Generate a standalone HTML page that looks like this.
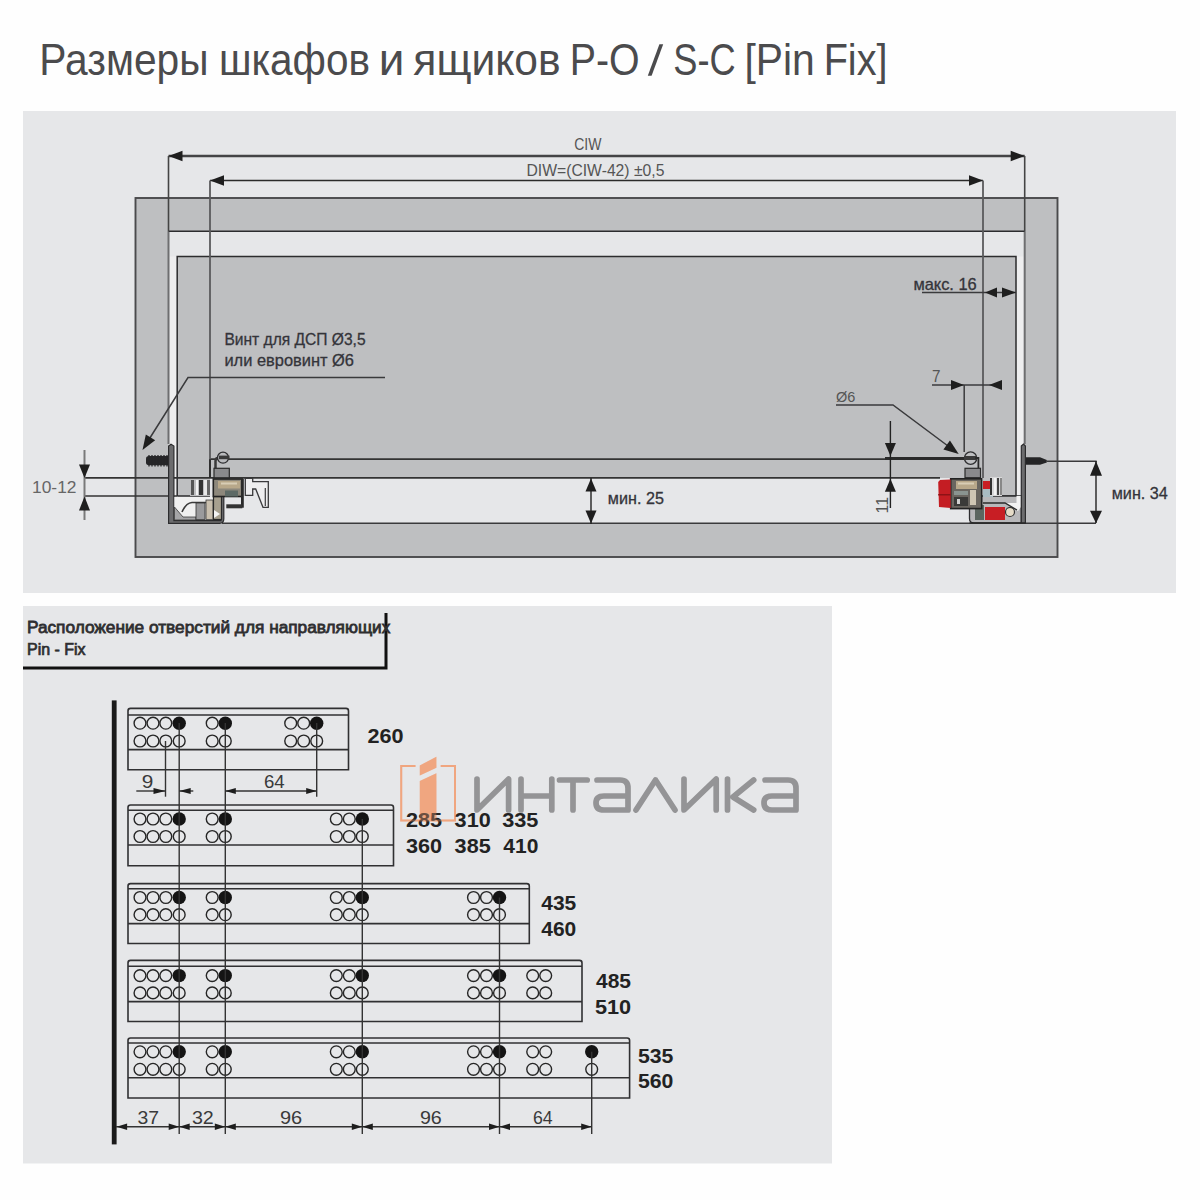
<!DOCTYPE html>
<html><head><meta charset="utf-8"><style>
html,body{margin:0;padding:0;background:#fefefe;}
svg{display:block;font-family:"Liberation Sans", sans-serif;}
</style></head><body>
<svg width="1200" height="1200" viewBox="0 0 1200 1200">
<rect width="1200" height="1200" fill="#fefefe"/>
<text x="100" y="0" font-size="43.5" font-weight="normal" fill="#4b4b4d" transform="translate(-54.43,74.75) scale(0.9368,1)" >Размеры</text>
<text x="100" y="0" font-size="43.5" font-weight="normal" fill="#4b4b4d" transform="translate(125.72,74.75) scale(0.9318,1)" >шкафов</text>
<text x="100" y="0" font-size="43.5" font-weight="normal" fill="#4b4b4d" transform="translate(273.28,74.75) scale(1.0556,1)" >и</text>
<text x="100" y="0" font-size="43.5" font-weight="normal" fill="#4b4b4d" transform="translate(315.42,74.75) scale(0.9791,1)" >ящиков</text>
<text x="100" y="0" font-size="43.5" font-weight="normal" fill="#4b4b4d" transform="translate(479.26,74.75) scale(0.9042,1)" >P-O</text>
<text x="100" y="0" font-size="43.5" font-weight="normal" fill="#4b4b4d" transform="translate(589.95,74.75) scale(0.8338,1)" >S-C</text>
<text x="100" y="0" font-size="43.5" font-weight="normal" fill="#4b4b4d" transform="translate(650.72,74.75) scale(0.9377,1)" >[Pin</text>
<text x="100" y="0" font-size="43.5" font-weight="normal" fill="#4b4b4d" transform="translate(732.54,74.75) scale(0.9111,1)" >Fix]</text>
<polygon points="659.4,44.3 663.2,44.3 651.6,75.7 647.8,75.7" fill="#4b4b4d"/>
<rect x="23" y="111" width="1153" height="482" fill="#e6e7e9"/>
<rect x="135.5" y="198" width="922" height="359" fill="#bebfc1" stroke="#4a4a4c" stroke-width="1.9"/>
<rect x="168.5" y="231.3" width="856" height="292" fill="#e6e7e9"/>
<rect x="177.2" y="256.5" width="838.8" height="221.5" fill="#bebfc1"/>
<rect x="177.2" y="256.5" width="32.8" height="239.5" fill="#bebfc1"/>
<rect x="983" y="256.5" width="33" height="239.5" fill="#bebfc1"/>
<rect x="169.5" y="256.5" width="7" height="240" fill="#eeeeef"/>
<rect x="1016.75" y="256.5" width="7" height="240" fill="#eeeeef"/>
<path d="M177.2 496 L177.2 256.5 L1016 256.5 L1016 496 L983 496" fill="none" stroke="#2c2c2e" stroke-width="1.5"/>
<line x1="177.2" y1="496" x2="210" y2="496" stroke="#2c2c2e" stroke-width="1.5"/>
<line x1="168.5" y1="231.3" x2="168.5" y2="444" stroke="#6e6e70" stroke-width="2"/>
<line x1="1024.7" y1="231.3" x2="1024.7" y2="444" stroke="#6e6e70" stroke-width="2"/>
<line x1="168.5" y1="231.3" x2="1024.7" y2="231.3" stroke="#2c2c2e" stroke-width="1.6"/>
<line x1="222" y1="523.3" x2="1096" y2="523.3" stroke="#3a3a3c" stroke-width="1.6"/>
<line x1="210" y1="459.2" x2="965" y2="459.2" stroke="#333" stroke-width="1.8"/>
<line x1="885" y1="458.4" x2="965" y2="458.4" stroke="#2a2a2a" stroke-width="2.6"/>
<line x1="85" y1="477.9" x2="940" y2="477.9" stroke="#333" stroke-width="1.8"/>
<line x1="85" y1="496" x2="177" y2="496" stroke="#333" stroke-width="1.5"/>
<line x1="168.5" y1="156" x2="1024.7" y2="156" stroke="#444446" stroke-width="2.3"/>
<polygon points="168.50,156.00 182.50,150.80 182.50,161.20" fill="#1e1e1e"/>
<polygon points="1024.70,156.00 1010.70,161.20 1010.70,150.80" fill="#1e1e1e"/>
<line x1="168.5" y1="156" x2="168.5" y2="231.3" stroke="#444" stroke-width="1.6"/>
<line x1="1024.7" y1="156" x2="1024.7" y2="231.3" stroke="#444" stroke-width="1.6"/>
<text x="100" y="0" font-size="16.7" font-weight="normal" fill="#555" transform="translate(490.29,149.5) scale(0.8387,1)" >CIW</text>
<line x1="210" y1="180.5" x2="983" y2="180.5" stroke="#2a2a2a" stroke-width="1.6"/>
<polygon points="210.00,180.50 224.00,175.30 224.00,185.70" fill="#1e1e1e"/>
<polygon points="983.00,180.50 969.00,185.70 969.00,175.30" fill="#1e1e1e"/>
<line x1="210" y1="180.5" x2="210" y2="478" stroke="#5a5a5c" stroke-width="1.8"/>
<line x1="983" y1="180.5" x2="983" y2="478" stroke="#5a5a5c" stroke-width="1.8"/>
<text x="100" y="0" font-size="16" font-weight="normal" fill="#555" transform="translate(428.32,175.5) scale(0.9820,1)" >DIW=(CIW-42) ±0,5</text>
<text x="100" y="0" font-size="16.4" font-weight="normal" stroke="#34343a" stroke-width="0.3" fill="#34343a" transform="translate(129.48,345) scale(0.9497,1)" >Винт для ДСП Ø3,5</text>
<text x="100" y="0" font-size="16.4" font-weight="normal" stroke="#34343a" stroke-width="0.3" fill="#34343a" transform="translate(124.16,365.7) scale(1.0023,1)" >или евровинт Ø6</text>
<polyline points="385,377.5 188,377.5 148,441" fill="none" stroke="#3a3a3c" stroke-width="1.5"/>
<polygon points="142.50,450.00 145.84,434.38 155.15,440.24" fill="#1e1e1e"/>
<text x="100" y="0" font-size="16" font-weight="normal" stroke="#34343a" stroke-width="0.3" fill="#34343a" transform="translate(810.71,290) scale(1.0267,1)" >макс. 16</text>
<line x1="922" y1="292.6" x2="1016" y2="292.6" stroke="#3a3a3c" stroke-width="1.5"/>
<polygon points="985.00,292.60 997.00,287.60 997.00,297.60" fill="#1e1e1e"/>
<polygon points="1016.00,292.60 1002.00,297.60 1002.00,287.60" fill="#1e1e1e"/>
<text x="100" y="0" font-size="17.4" font-weight="normal" fill="#555" transform="translate(844.62,382) scale(0.8750,1)" >7</text>
<line x1="932" y1="385" x2="1002" y2="385" stroke="#3a3a3c" stroke-width="1.5"/>
<polygon points="964.00,385.00 951.00,390.00 951.00,380.00" fill="#1e1e1e"/>
<polygon points="989.00,385.00 1002.00,380.00 1002.00,390.00" fill="#1e1e1e"/>
<line x1="964.2" y1="385" x2="964.2" y2="452" stroke="#3a3a3c" stroke-width="1.5"/>
<text x="100" y="0" font-size="14.5" font-weight="normal" fill="#555" transform="translate(736.00,402) scale(1.0000,1)" >Ø6</text>
<polyline points="836,405 893,405 952,449" fill="none" stroke="#3a3a3c" stroke-width="1.5"/>
<polygon points="958.70,454.00 943.39,449.44 949.96,440.62" fill="#1e1e1e"/>
<line x1="890.4" y1="421" x2="890.4" y2="508" stroke="#222" stroke-width="1.4"/>
<polygon points="890.40,456.00 884.90,443.00 895.90,443.00" fill="#1e1e1e"/>
<polygon points="890.40,478.70 895.90,491.70 884.90,491.70" fill="#1e1e1e"/>
<text x="0" y="0" font-size="16" fill="#555" transform="translate(888,513.5) rotate(-90)">11</text>
<line x1="591" y1="478" x2="591" y2="524" stroke="#222" stroke-width="1.4"/>
<polygon points="591.00,478.50 596.50,491.50 585.50,491.50" fill="#1e1e1e"/>
<polygon points="591.00,523.50 585.50,510.50 596.50,510.50" fill="#1e1e1e"/>
<text x="100" y="0" font-size="17" font-weight="normal" stroke="#34343a" stroke-width="0.3" fill="#34343a" transform="translate(512.68,503.6) scale(0.9517,1)" >мин. 25</text>
<line x1="84.5" y1="450" x2="84.5" y2="520" stroke="#7a7a7a" stroke-width="2"/>
<polygon points="84.50,478.00 79.00,464.50 90.00,464.50" fill="#1e1e1e"/>
<polygon points="84.50,496.50 90.00,510.50 79.00,510.50" fill="#1e1e1e"/>
<text x="100" y="0" font-size="17.4" font-weight="normal" fill="#666" transform="translate(-68.00,493) scale(1.0000,1)" >10-12</text>
<line x1="1047" y1="461.3" x2="1096.7" y2="461.3" stroke="#3a3a3c" stroke-width="1.5"/>
<line x1="1096" y1="461" x2="1096" y2="523" stroke="#222" stroke-width="1.4"/>
<polygon points="1096.00,461.30 1102.00,475.80 1090.00,475.80" fill="#1e1e1e"/>
<polygon points="1096.00,523.30 1090.00,510.80 1102.00,510.80" fill="#1e1e1e"/>
<text x="100" y="0" font-size="17" font-weight="normal" stroke="#34343a" stroke-width="0.3" fill="#34343a" transform="translate(1016.40,498.7) scale(0.9534,1)" >мин. 34</text>
<path d="M146 458.5 Q146 456 149 456 L168.7 456 L168.7 465.3 L149 465.3 Q146 465.3 146 462.5 Z" fill="#262628"/><line x1="149" y1="455" x2="149" y2="466.5" stroke="#262628" stroke-width="1.3"/><line x1="152" y1="455" x2="152" y2="466.5" stroke="#262628" stroke-width="1.3"/><line x1="155" y1="455" x2="155" y2="466.5" stroke="#262628" stroke-width="1.3"/><line x1="158" y1="455" x2="158" y2="466.5" stroke="#262628" stroke-width="1.3"/><line x1="161" y1="455" x2="161" y2="466.5" stroke="#262628" stroke-width="1.3"/><line x1="164" y1="455" x2="164" y2="466.5" stroke="#262628" stroke-width="1.3"/><line x1="167" y1="455" x2="167" y2="466.5" stroke="#262628" stroke-width="1.3"/><path d="M168.6 523.3 L168.6 446 L171 444.3 L173.9 446 L173.9 520.6 L221 520.6 Q221 520.6 221 518 L221 495.5 L223.8 495.5 L223.8 519 Q223.8 523.3 219.5 523.3 Z" fill="#6c6c6e" stroke="#2c2c2e" stroke-width="1.2"/><path d="M174.5 497 L221 497 L221 520 L174.5 520 Z" fill="#f0f0f0"/><polygon points="174.5,507 183,517 196,517 196,520 174.5,520" fill="#a6a6a8" stroke="#3a3a3a" stroke-width="0.8"/><path d="M182 512 Q186 503 192 502.5 L210 502.5" fill="none" stroke="#3a3a3a" stroke-width="1.6"/><rect x="196" y="503" width="9" height="16.5" fill="#9a9a9c" stroke="#333" stroke-width="0.8"/><rect x="206" y="500" width="7" height="19.5" fill="#c9bfae" stroke="#3a3a3a" stroke-width="0.8"/><rect x="213.5" y="496.5" width="8" height="23" fill="#a7a08f" stroke="#2a2a2a" stroke-width="1.2"/><path d="M214 510 L220 514 L214 518 Z" fill="#f4f4f4"/><rect x="190" y="479" width="20" height="17" fill="#bdbdbf"/><rect x="191" y="480" width="3" height="15" fill="#555"/><rect x="196" y="480" width="2" height="15" fill="#f2f2f2"/><rect x="199" y="480" width="4" height="15" fill="#333"/><rect x="204" y="480" width="3" height="15" fill="#e8e8e8"/><rect x="207" y="480" width="3" height="15" fill="#666"/><line x1="210" y1="459.2" x2="210" y2="478" stroke="#2a2a2a" stroke-width="1.8"/><path d="M215.5 468 L215.5 461 Q215.5 458 218 458" fill="none" stroke="#3a3a3a" stroke-width="2.5"/><circle cx="223" cy="457.7" r="5.5" fill="#b9babd" stroke="#2e2e30" stroke-width="1.3"/><rect x="219" y="455.6" width="10.5" height="3.6" fill="#3a3a3a"/><rect x="214" y="468.3" width="15.3" height="9.5" fill="#8a8a8c" stroke="#2a2a2a" stroke-width="1.2"/><rect x="213.3" y="479" width="29" height="17.5" fill="#8d887c" stroke="#222" stroke-width="1.6"/><rect x="218" y="481" width="22" height="7.5" fill="#b8a88a"/><rect x="221" y="482.5" width="16" height="2" fill="#d8cdb5"/><rect x="225" y="490.5" width="13" height="6" fill="#5d6a66"/><rect x="241" y="479" width="2.8" height="28.7" fill="#2a2a2a"/><rect x="226.3" y="504.3" width="16" height="4" fill="#333"/><path d="M245.3 478.3 L252.7 478.3 L252.7 481.7 L268.3 481.7 L268.3 507.3 L263 507.3 L255.7 489 L252.7 489 L252.7 495.3 L245.3 495.3 Z" fill="#eeeeef" stroke="#3a3a3c" stroke-width="1.3"/><line x1="265.3" y1="488" x2="265.3" y2="506" stroke="#3a3a3c" stroke-width="1.2"/>
<path d="M1025.4 457.3 L1040 457.3 L1046.8 460 L1046.8 462.5 L1040 464.8 L1025.4 464.8 Z" fill="#242426"/><rect x="1016.5" y="496" width="4.8" height="12" fill="#f0f0f0"/><path d="M969.5 496 L1021.3 496 L1021.3 523 L974 523 Q969.5 523 969.5 518.5 Z" fill="#b8b8ba" stroke="#2e2e30" stroke-width="1.3"/><path d="M983 503 L1005 503 L1018 511 L1021 507 L1021 496 L1016.5 496 L1016.5 503" fill="#f2f2f2"/><rect x="985" y="507" width="20" height="13" fill="#c81e24"/><rect x="975" y="505" width="9" height="15" fill="#5b6660"/><circle cx="1010" cy="512" r="4.5" fill="#e6dcc8" stroke="#333" stroke-width="1.2"/><path d="M983 503 L1005 503 L1017 510" fill="none" stroke="#2a2a2a" stroke-width="1.4"/><path d="M1021.3 446 L1023.5 444 L1025.4 446 L1025.4 523.3 L1021.3 523.3 Z" fill="#6c6c6e" stroke="#2c2c2e" stroke-width="1.2"/><line x1="969.5" y1="523" x2="1025.4" y2="523" stroke="#2a2a2a" stroke-width="1.6"/><circle cx="970.6" cy="458.1" r="6.2" fill="none" stroke="#2e2e30" stroke-width="1.3"/><rect x="964" y="456" width="13" height="4" fill="#3a3a3a"/><path d="M975 458 L978.4 458 L978.4 468" fill="none" stroke="#2a2a2a" stroke-width="1.8"/><rect x="965" y="468.3" width="15.5" height="9.4" fill="#8a8a8c" stroke="#2a2a2a" stroke-width="1.2"/><rect x="950.7" y="478.8" width="31" height="29.8" fill="#6a6660" stroke="#222" stroke-width="1.6"/><rect x="956" y="481" width="21" height="8" fill="#b8a88a"/><rect x="958" y="482.5" width="16" height="2" fill="#d8cdb5"/><rect x="954" y="491" width="14" height="4" fill="#8a9490"/><rect x="954" y="497" width="14" height="9" fill="#3a3a38"/><rect x="957" y="499" width="3" height="5" fill="#d0d0d0"/><rect x="970" y="490" width="6" height="15" fill="#cfc6b4"/><path d="M940 480 L950.7 479.4 L950.7 508 L939 507 L938.2 482 Z" fill="#c41d23"/><rect x="938.2" y="494" width="12.5" height="1.5" fill="#8e1216"/><rect x="983" y="481" width="10" height="8" fill="#c81e24"/><rect x="983" y="489" width="10" height="8" fill="#a9bcc2"/><rect x="990" y="477" width="12" height="19" fill="#d9d9da"/><rect x="990" y="478" width="2" height="17" fill="#333"/><rect x="994" y="478" width="2" height="17" fill="#f4f4f4"/><rect x="997" y="478" width="2" height="17" fill="#444"/><rect x="1000" y="478" width="2" height="17" fill="#888"/>
<rect x="23" y="606" width="809" height="557.5" fill="#e6e7e9"/>
<path d="M23 668 L386 668 L386 613" fill="none" stroke="#111" stroke-width="3"/>
<text x="100" y="0" font-size="16.5" font-weight="normal" stroke="#2e2e30" stroke-width="0.75" fill="#2e2e30" transform="translate(-77.66,632.8) scale(1.0461,1)" >Расположение отверстий для направляющих</text>
<text x="100" y="0" font-size="16.5" font-weight="normal" stroke="#2e2e30" stroke-width="0.75" fill="#2e2e30" transform="translate(-69.63,654.5) scale(0.9667,1)" >Pin - Fix</text>
<rect x="111.8" y="700.4" width="4.8" height="444" fill="#1a1a1a"/>
<path d="M128 769.7 L128 710.9 Q128 708.4 130.5 708.4 L346.0 708.4 Q348.5 708.4 348.5 710.9 L348.5 769.7 Z" fill="#e6e7e9" stroke="#303032" stroke-width="1.6"/><line x1="128" y1="715" x2="348.5" y2="715" stroke="#303032" stroke-width="1.6"/><line x1="128" y1="749.6" x2="348.5" y2="749.6" stroke="#303032" stroke-width="1.6"/>
<circle cx="140" cy="723.2" r="5.9" fill="none" stroke="#262626" stroke-width="1.4"/>
<circle cx="140" cy="741" r="5.9" fill="none" stroke="#262626" stroke-width="1.4"/>
<circle cx="153" cy="723.2" r="5.9" fill="none" stroke="#262626" stroke-width="1.4"/>
<circle cx="153" cy="741" r="5.9" fill="none" stroke="#262626" stroke-width="1.4"/>
<circle cx="165.8" cy="723.2" r="5.9" fill="none" stroke="#262626" stroke-width="1.4"/>
<circle cx="165.8" cy="741" r="5.9" fill="none" stroke="#262626" stroke-width="1.4"/>
<circle cx="179.2" cy="723.2" r="6.7" fill="#141414"/>
<circle cx="179.2" cy="741" r="5.9" fill="none" stroke="#262626" stroke-width="1.4"/>
<circle cx="212.2" cy="723.2" r="5.9" fill="none" stroke="#262626" stroke-width="1.4"/>
<circle cx="212.2" cy="741" r="5.9" fill="none" stroke="#262626" stroke-width="1.4"/>
<circle cx="225.3" cy="723.2" r="6.7" fill="#141414"/>
<circle cx="225.3" cy="741" r="5.9" fill="none" stroke="#262626" stroke-width="1.4"/>
<circle cx="290.7" cy="723.2" r="5.9" fill="none" stroke="#262626" stroke-width="1.4"/>
<circle cx="290.7" cy="741" r="5.9" fill="none" stroke="#262626" stroke-width="1.4"/>
<circle cx="303.7" cy="723.2" r="5.9" fill="none" stroke="#262626" stroke-width="1.4"/>
<circle cx="303.7" cy="741" r="5.9" fill="none" stroke="#262626" stroke-width="1.4"/>
<circle cx="316.7" cy="723.2" r="6.7" fill="#141414"/>
<circle cx="316.7" cy="741" r="5.9" fill="none" stroke="#262626" stroke-width="1.4"/>
<path d="M128 865.8 L128 807.5 Q128 805 130.5 805 L391.0 805 Q393.5 805 393.5 807.5 L393.5 865.8 Z" fill="#e6e7e9" stroke="#303032" stroke-width="1.6"/><line x1="128" y1="810.3" x2="393.5" y2="810.3" stroke="#303032" stroke-width="1.6"/><line x1="128" y1="845" x2="393.5" y2="845" stroke="#303032" stroke-width="1.6"/>
<circle cx="140" cy="819" r="5.9" fill="none" stroke="#262626" stroke-width="1.4"/>
<circle cx="140" cy="836.5" r="5.9" fill="none" stroke="#262626" stroke-width="1.4"/>
<circle cx="153" cy="819" r="5.9" fill="none" stroke="#262626" stroke-width="1.4"/>
<circle cx="153" cy="836.5" r="5.9" fill="none" stroke="#262626" stroke-width="1.4"/>
<circle cx="165.8" cy="819" r="5.9" fill="none" stroke="#262626" stroke-width="1.4"/>
<circle cx="165.8" cy="836.5" r="5.9" fill="none" stroke="#262626" stroke-width="1.4"/>
<circle cx="179.2" cy="819" r="6.7" fill="#141414"/>
<circle cx="179.2" cy="836.5" r="5.9" fill="none" stroke="#262626" stroke-width="1.4"/>
<circle cx="212.2" cy="819" r="5.9" fill="none" stroke="#262626" stroke-width="1.4"/>
<circle cx="212.2" cy="836.5" r="5.9" fill="none" stroke="#262626" stroke-width="1.4"/>
<circle cx="225.3" cy="819" r="6.7" fill="#141414"/>
<circle cx="225.3" cy="836.5" r="5.9" fill="none" stroke="#262626" stroke-width="1.4"/>
<circle cx="336.3" cy="819" r="5.9" fill="none" stroke="#262626" stroke-width="1.4"/>
<circle cx="336.3" cy="836.5" r="5.9" fill="none" stroke="#262626" stroke-width="1.4"/>
<circle cx="349.3" cy="819" r="5.9" fill="none" stroke="#262626" stroke-width="1.4"/>
<circle cx="349.3" cy="836.5" r="5.9" fill="none" stroke="#262626" stroke-width="1.4"/>
<circle cx="362.3" cy="819" r="6.7" fill="#141414"/>
<circle cx="362.3" cy="836.5" r="5.9" fill="none" stroke="#262626" stroke-width="1.4"/>
<path d="M128 943.5 L128 886.1 Q128 883.6 130.5 883.6 L526.8 883.6 Q529.3 883.6 529.3 886.1 L529.3 943.5 Z" fill="#e6e7e9" stroke="#303032" stroke-width="1.6"/><line x1="128" y1="888.8" x2="529.3" y2="888.8" stroke="#303032" stroke-width="1.6"/><line x1="128" y1="923.6" x2="529.3" y2="923.6" stroke="#303032" stroke-width="1.6"/>
<circle cx="140" cy="897.5" r="5.9" fill="none" stroke="#262626" stroke-width="1.4"/>
<circle cx="140" cy="914.7" r="5.9" fill="none" stroke="#262626" stroke-width="1.4"/>
<circle cx="153" cy="897.5" r="5.9" fill="none" stroke="#262626" stroke-width="1.4"/>
<circle cx="153" cy="914.7" r="5.9" fill="none" stroke="#262626" stroke-width="1.4"/>
<circle cx="165.8" cy="897.5" r="5.9" fill="none" stroke="#262626" stroke-width="1.4"/>
<circle cx="165.8" cy="914.7" r="5.9" fill="none" stroke="#262626" stroke-width="1.4"/>
<circle cx="179.2" cy="897.5" r="6.7" fill="#141414"/>
<circle cx="179.2" cy="914.7" r="5.9" fill="none" stroke="#262626" stroke-width="1.4"/>
<circle cx="212.2" cy="897.5" r="5.9" fill="none" stroke="#262626" stroke-width="1.4"/>
<circle cx="212.2" cy="914.7" r="5.9" fill="none" stroke="#262626" stroke-width="1.4"/>
<circle cx="225.3" cy="897.5" r="6.7" fill="#141414"/>
<circle cx="225.3" cy="914.7" r="5.9" fill="none" stroke="#262626" stroke-width="1.4"/>
<circle cx="336.3" cy="897.5" r="5.9" fill="none" stroke="#262626" stroke-width="1.4"/>
<circle cx="336.3" cy="914.7" r="5.9" fill="none" stroke="#262626" stroke-width="1.4"/>
<circle cx="349.3" cy="897.5" r="5.9" fill="none" stroke="#262626" stroke-width="1.4"/>
<circle cx="349.3" cy="914.7" r="5.9" fill="none" stroke="#262626" stroke-width="1.4"/>
<circle cx="362.3" cy="897.5" r="6.7" fill="#141414"/>
<circle cx="362.3" cy="914.7" r="5.9" fill="none" stroke="#262626" stroke-width="1.4"/>
<circle cx="473.5" cy="897.5" r="5.9" fill="none" stroke="#262626" stroke-width="1.4"/>
<circle cx="473.5" cy="914.7" r="5.9" fill="none" stroke="#262626" stroke-width="1.4"/>
<circle cx="486.5" cy="897.5" r="5.9" fill="none" stroke="#262626" stroke-width="1.4"/>
<circle cx="486.5" cy="914.7" r="5.9" fill="none" stroke="#262626" stroke-width="1.4"/>
<circle cx="499.5" cy="897.5" r="6.7" fill="#141414"/>
<circle cx="499.5" cy="914.7" r="5.9" fill="none" stroke="#262626" stroke-width="1.4"/>
<path d="M128 1021.5 L128 962.9 Q128 960.4 130.5 960.4 L579.5 960.4 Q582 960.4 582 962.9 L582 1021.5 Z" fill="#e6e7e9" stroke="#303032" stroke-width="1.6"/><line x1="128" y1="966.3" x2="582" y2="966.3" stroke="#303032" stroke-width="1.6"/><line x1="128" y1="1001.6" x2="582" y2="1001.6" stroke="#303032" stroke-width="1.6"/>
<circle cx="140" cy="975.6" r="5.9" fill="none" stroke="#262626" stroke-width="1.4"/>
<circle cx="140" cy="992.9" r="5.9" fill="none" stroke="#262626" stroke-width="1.4"/>
<circle cx="153" cy="975.6" r="5.9" fill="none" stroke="#262626" stroke-width="1.4"/>
<circle cx="153" cy="992.9" r="5.9" fill="none" stroke="#262626" stroke-width="1.4"/>
<circle cx="165.8" cy="975.6" r="5.9" fill="none" stroke="#262626" stroke-width="1.4"/>
<circle cx="165.8" cy="992.9" r="5.9" fill="none" stroke="#262626" stroke-width="1.4"/>
<circle cx="179.2" cy="975.6" r="6.7" fill="#141414"/>
<circle cx="179.2" cy="992.9" r="5.9" fill="none" stroke="#262626" stroke-width="1.4"/>
<circle cx="212.2" cy="975.6" r="5.9" fill="none" stroke="#262626" stroke-width="1.4"/>
<circle cx="212.2" cy="992.9" r="5.9" fill="none" stroke="#262626" stroke-width="1.4"/>
<circle cx="225.3" cy="975.6" r="6.7" fill="#141414"/>
<circle cx="225.3" cy="992.9" r="5.9" fill="none" stroke="#262626" stroke-width="1.4"/>
<circle cx="336.3" cy="975.6" r="5.9" fill="none" stroke="#262626" stroke-width="1.4"/>
<circle cx="336.3" cy="992.9" r="5.9" fill="none" stroke="#262626" stroke-width="1.4"/>
<circle cx="349.3" cy="975.6" r="5.9" fill="none" stroke="#262626" stroke-width="1.4"/>
<circle cx="349.3" cy="992.9" r="5.9" fill="none" stroke="#262626" stroke-width="1.4"/>
<circle cx="362.3" cy="975.6" r="6.7" fill="#141414"/>
<circle cx="362.3" cy="992.9" r="5.9" fill="none" stroke="#262626" stroke-width="1.4"/>
<circle cx="473.5" cy="975.6" r="5.9" fill="none" stroke="#262626" stroke-width="1.4"/>
<circle cx="473.5" cy="992.9" r="5.9" fill="none" stroke="#262626" stroke-width="1.4"/>
<circle cx="486.5" cy="975.6" r="5.9" fill="none" stroke="#262626" stroke-width="1.4"/>
<circle cx="486.5" cy="992.9" r="5.9" fill="none" stroke="#262626" stroke-width="1.4"/>
<circle cx="499.5" cy="975.6" r="6.7" fill="#141414"/>
<circle cx="499.5" cy="992.9" r="5.9" fill="none" stroke="#262626" stroke-width="1.4"/>
<circle cx="532.7" cy="975.6" r="5.9" fill="none" stroke="#262626" stroke-width="1.4"/>
<circle cx="532.7" cy="992.9" r="5.9" fill="none" stroke="#262626" stroke-width="1.4"/>
<circle cx="545.7" cy="975.6" r="5.9" fill="none" stroke="#262626" stroke-width="1.4"/>
<circle cx="545.7" cy="992.9" r="5.9" fill="none" stroke="#262626" stroke-width="1.4"/>
<path d="M128 1098 L128 1040.5 Q128 1038 130.5 1038 L627.1 1038 Q629.6 1038 629.6 1040.5 L629.6 1098 Z" fill="#e6e7e9" stroke="#303032" stroke-width="1.6"/><line x1="128" y1="1043" x2="629.6" y2="1043" stroke="#303032" stroke-width="1.6"/><line x1="128" y1="1077.8" x2="629.6" y2="1077.8" stroke="#303032" stroke-width="1.6"/>
<circle cx="140" cy="1051.8" r="5.9" fill="none" stroke="#262626" stroke-width="1.4"/>
<circle cx="140" cy="1069.3" r="5.9" fill="none" stroke="#262626" stroke-width="1.4"/>
<circle cx="153" cy="1051.8" r="5.9" fill="none" stroke="#262626" stroke-width="1.4"/>
<circle cx="153" cy="1069.3" r="5.9" fill="none" stroke="#262626" stroke-width="1.4"/>
<circle cx="165.8" cy="1051.8" r="5.9" fill="none" stroke="#262626" stroke-width="1.4"/>
<circle cx="165.8" cy="1069.3" r="5.9" fill="none" stroke="#262626" stroke-width="1.4"/>
<circle cx="179.2" cy="1051.8" r="6.7" fill="#141414"/>
<circle cx="179.2" cy="1069.3" r="5.9" fill="none" stroke="#262626" stroke-width="1.4"/>
<circle cx="212.2" cy="1051.8" r="5.9" fill="none" stroke="#262626" stroke-width="1.4"/>
<circle cx="212.2" cy="1069.3" r="5.9" fill="none" stroke="#262626" stroke-width="1.4"/>
<circle cx="225.3" cy="1051.8" r="6.7" fill="#141414"/>
<circle cx="225.3" cy="1069.3" r="5.9" fill="none" stroke="#262626" stroke-width="1.4"/>
<circle cx="336.3" cy="1051.8" r="5.9" fill="none" stroke="#262626" stroke-width="1.4"/>
<circle cx="336.3" cy="1069.3" r="5.9" fill="none" stroke="#262626" stroke-width="1.4"/>
<circle cx="349.3" cy="1051.8" r="5.9" fill="none" stroke="#262626" stroke-width="1.4"/>
<circle cx="349.3" cy="1069.3" r="5.9" fill="none" stroke="#262626" stroke-width="1.4"/>
<circle cx="362.3" cy="1051.8" r="6.7" fill="#141414"/>
<circle cx="362.3" cy="1069.3" r="5.9" fill="none" stroke="#262626" stroke-width="1.4"/>
<circle cx="473.5" cy="1051.8" r="5.9" fill="none" stroke="#262626" stroke-width="1.4"/>
<circle cx="473.5" cy="1069.3" r="5.9" fill="none" stroke="#262626" stroke-width="1.4"/>
<circle cx="486.5" cy="1051.8" r="5.9" fill="none" stroke="#262626" stroke-width="1.4"/>
<circle cx="486.5" cy="1069.3" r="5.9" fill="none" stroke="#262626" stroke-width="1.4"/>
<circle cx="499.5" cy="1051.8" r="6.7" fill="#141414"/>
<circle cx="499.5" cy="1069.3" r="5.9" fill="none" stroke="#262626" stroke-width="1.4"/>
<circle cx="532.7" cy="1051.8" r="5.9" fill="none" stroke="#262626" stroke-width="1.4"/>
<circle cx="532.7" cy="1069.3" r="5.9" fill="none" stroke="#262626" stroke-width="1.4"/>
<circle cx="545.7" cy="1051.8" r="5.9" fill="none" stroke="#262626" stroke-width="1.4"/>
<circle cx="545.7" cy="1069.3" r="5.9" fill="none" stroke="#262626" stroke-width="1.4"/>
<circle cx="591.7" cy="1051.8" r="6.7" fill="#141414"/>
<circle cx="591.7" cy="1069.3" r="5.9" fill="none" stroke="#262626" stroke-width="1.4"/>
<line x1="165.5" y1="741" x2="165.5" y2="796.7" stroke="#333" stroke-width="1.4"/>
<line x1="179.2" y1="723" x2="179.2" y2="1134" stroke="#333" stroke-width="1.4"/>
<line x1="225.3" y1="723" x2="225.3" y2="1134" stroke="#333" stroke-width="1.4"/>
<line x1="316.7" y1="723" x2="316.7" y2="796.7" stroke="#333" stroke-width="1.4"/>
<line x1="362.3" y1="819" x2="362.3" y2="1134" stroke="#333" stroke-width="1.4"/>
<line x1="499.5" y1="897.5" x2="499.5" y2="1134" stroke="#333" stroke-width="1.4"/>
<line x1="591.7" y1="1051.8" x2="591.7" y2="1134" stroke="#333" stroke-width="1.4"/>
<line x1="136.3" y1="791" x2="165.5" y2="791" stroke="#333" stroke-width="1.4"/>
<polygon points="165.50,791.00 153.50,794.00 153.50,788.00" fill="#1e1e1e"/>
<line x1="179.2" y1="791" x2="193.3" y2="791" stroke="#333" stroke-width="1.4"/>
<polygon points="179.20,791.00 190.70,788.00 190.70,794.00" fill="#1e1e1e"/>
<line x1="225.3" y1="791" x2="316.7" y2="791" stroke="#333" stroke-width="1.4"/>
<polygon points="225.30,791.00 235.80,788.00 235.80,794.00" fill="#1e1e1e"/>
<polygon points="316.70,791.00 306.20,794.00 306.20,788.00" fill="#1e1e1e"/>
<text x="100" y="0" font-size="17.5" font-weight="normal" fill="#3a3a3a" transform="translate(23.06,788.3) scale(1.1875,1)" >9</text>
<text x="100" y="0" font-size="17.5" font-weight="normal" fill="#3a3a3a" transform="translate(157.27,788.3) scale(1.0667,1)" >64</text>
<line x1="116" y1="1126.8" x2="591.7" y2="1126.8" stroke="#333" stroke-width="1.4"/>
<polygon points="116.60,1126.80 127.10,1123.60 127.10,1130.00" fill="#1e1e1e"/>
<polygon points="179.20,1126.80 168.70,1130.00 168.70,1123.60" fill="#1e1e1e"/>
<polygon points="179.20,1126.80 189.70,1123.60 189.70,1130.00" fill="#1e1e1e"/>
<polygon points="225.30,1126.80 214.80,1130.00 214.80,1123.60" fill="#1e1e1e"/>
<polygon points="225.30,1126.80 235.80,1123.60 235.80,1130.00" fill="#1e1e1e"/>
<polygon points="362.30,1126.80 351.80,1130.00 351.80,1123.60" fill="#1e1e1e"/>
<polygon points="362.30,1126.80 372.80,1123.60 372.80,1130.00" fill="#1e1e1e"/>
<polygon points="499.50,1126.80 489.00,1130.00 489.00,1123.60" fill="#1e1e1e"/>
<polygon points="499.50,1126.80 510.00,1123.60 510.00,1130.00" fill="#1e1e1e"/>
<polygon points="591.70,1126.80 581.20,1130.00 581.20,1123.60" fill="#1e1e1e"/>
<text x="100" y="0" font-size="18" font-weight="normal" fill="#3a3a3a" transform="translate(29.74,1123.5) scale(1.0778,1)" >37</text>
<text x="100" y="0" font-size="18" font-weight="normal" fill="#3a3a3a" transform="translate(82.46,1123.5) scale(1.0944,1)" >32</text>
<text x="100" y="0" font-size="18" font-weight="normal" fill="#3a3a3a" transform="translate(168.78,1123.5) scale(1.1111,1)" >96</text>
<text x="100" y="0" font-size="18" font-weight="normal" fill="#3a3a3a" transform="translate(310.46,1123.5) scale(1.0944,1)" >96</text>
<text x="100" y="0" font-size="18" font-weight="normal" fill="#3a3a3a" transform="translate(434.59,1123.5) scale(0.9842,1)" >64</text>
<g opacity="0.88"><path d="M415.5 766 L401.2 766 L401.2 820.5 L455 820.5 L455 766 L440.7 766" fill="none" stroke="#f2a178" stroke-width="2"/><polygon points="419.8,765.5 436.4,756.7 436.4,767.7 419.8,775.5" fill="#f2a178"/><polygon points="419.8,781.1 436.4,773.3 436.4,821 419.8,821" fill="#f2a178"/></g>
<text x="100" y="0" font-size="20" font-weight="bold" fill="#222" transform="translate(259.39,743.3) scale(1.0812,1)" >260</text>
<text x="100" y="0" font-size="20" font-weight="bold" fill="#222" transform="translate(297.79,826.8) scale(1.0813,1)" >285</text>
<text x="100" y="0" font-size="20" font-weight="bold" fill="#222" transform="translate(346.49,826.8) scale(1.0813,1)" >310</text>
<text x="100" y="0" font-size="20" font-weight="bold" fill="#222" transform="translate(393.78,826.8) scale(1.0844,1)" >335</text>
<text x="100" y="0" font-size="20" font-weight="bold" fill="#222" transform="translate(297.79,852.8) scale(1.0813,1)" >360</text>
<text x="100" y="0" font-size="20" font-weight="bold" fill="#222" transform="translate(346.49,852.8) scale(1.0813,1)" >385</text>
<text x="100" y="0" font-size="20" font-weight="bold" fill="#222" transform="translate(398.15,852.8) scale(1.0515,1)" >410</text>
<text x="100" y="0" font-size="20" font-weight="bold" fill="#222" transform="translate(436.45,910.2) scale(1.0485,1)" >435</text>
<text x="100" y="0" font-size="20" font-weight="bold" fill="#222" transform="translate(436.45,936.2) scale(1.0485,1)" >460</text>
<text x="100" y="0" font-size="20" font-weight="bold" fill="#222" transform="translate(490.85,988) scale(1.0515,1)" >485</text>
<text x="100" y="0" font-size="20" font-weight="bold" fill="#222" transform="translate(486.48,1013.5) scale(1.0844,1)" >510</text>
<text x="100" y="0" font-size="20" font-weight="bold" fill="#222" transform="translate(531.69,1062.7) scale(1.0625,1)" >535</text>
<text x="100" y="0" font-size="20" font-weight="bold" fill="#222" transform="translate(531.69,1088) scale(1.0625,1)" >560</text>
<g opacity="0.35"><path d="M415.5 766 L401.2 766 L401.2 820.5 L455 820.5 L455 766 L440.7 766" fill="none" stroke="#f2a178" stroke-width="2"/><polygon points="419.8,765.5 436.4,756.7 436.4,767.7 419.8,775.5" fill="#f2a178"/><polygon points="419.8,781.1 436.4,773.3 436.4,821 419.8,821" fill="#f2a178"/></g>
<g fill="none" stroke="#949496" stroke-width="5.7" stroke-linecap="round" stroke-linejoin="round"><path d="M477 779 L477 810 L508.6 779 L508.6 810"/><path d="M521 779 L521 810 M551.8 779 L551.8 810 M521 796 L551.8 796"/><path d="M559.5 780 L587.2 780 M573 780 L573 810"/><path d="M597 780 L620 780 Q628 780 628 788 L628 810 L604 810 Q596 810 596 803 Q596 796 604 796 L628 796"/><path d="M636 810 L655.5 780 L675 810"/><path d="M684 779 L684 810 L716.2 779 L716.2 810"/><path d="M727.5 779 L727.5 810 M753.7 780 L733 797 L753.7 810"/><path d="M765 780 L788 780 Q796 780 796 788 L796 810 L772 810 Q764 810 764 803 Q764 796 772 796 L796 796"/></g>
</svg>
</body></html>
